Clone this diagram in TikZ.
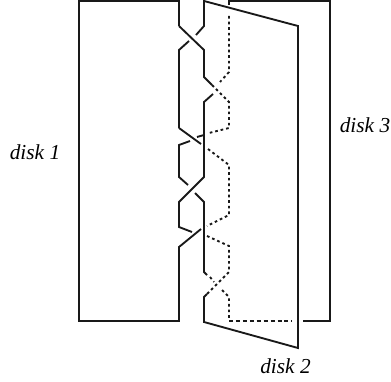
\documentclass[tikz,border=0pt]{standalone}
\usepackage{fontspec}
\setmainfont{Liberation Serif}
\tikzset{
  solidline/.style={line width=1.4pt,black!90,line join=miter},
  hidden/.style={line width=1.4pt,black!90,dash pattern=on 2pt off 2.2pt},
  hiddenlong/.style={line width=1.4pt,black!90,dash pattern=on 3pt off 2.2pt},
  disklabel/.style={font=\itshape\fontsize{16}{18}\selectfont,inner sep=0pt,anchor=base}
}
\begin{document}
\begin{tikzpicture}[x=0.75pt,y=-0.75pt]
\useasboundingbox (0,0) rectangle (391,381);
% labels
\node[disklabel] (d1) at (35,159) {disk 1};
\node[disklabel] (d3) at (365,132) {disk 3};
\node[disklabel] (d2) at (285.5,373) {disk 2};
% disk 1
\draw[solidline] (179,26) -- (179,1) -- (79,1) -- (79,321) -- (179,321) -- (179,247) -- (201,229);
% disk 2
\draw[solidline] (179,128) -- (179,50) -- (189,41);
\draw[solidline] (196,35) -- (204,26) -- (204,1) -- (298,26) -- (298,348) -- (204,322) -- (204,297) -- (207,294);
% disk 3
\draw[solidline] (229,5) -- (229,1) -- (330,1) -- (330,321) -- (303,321);
% strand 1
\draw[solidline] (179,26) -- (204,50) -- (204,77) -- (212,85);
\draw[hidden] (212,85) -- (229,102) -- (229,128) -- (209,133);
\draw[solidline] (197,137) -- (204,135);
\draw[solidline] (190,141) -- (179,145) -- (179,177) -- (188,185);
\draw[solidline] (195,193) -- (204,202) -- (204,272) -- (207,275);
\draw[hidden] (210,277) -- (214,282);
\draw[hidden] (222,290) -- (229,297) -- (229,318);
\draw[hiddenlong] (229,321) -- (292,321);
% strand 2
\draw[solidline] (179,128) -- (201,144);
\draw[hidden] (208,149) -- (229,165) -- (229,215) -- (207,226);
% strand 3
\draw[hidden] (229,16) -- (229,72) -- (220,82);
\draw[solidline] (213,94) -- (204,102) -- (204,177) -- (179,202) -- (179,227) -- (192,232);
\draw[hidden] (207,236) -- (229,246) -- (229,272) -- (207,294);
\end{tikzpicture}
\end{document}
